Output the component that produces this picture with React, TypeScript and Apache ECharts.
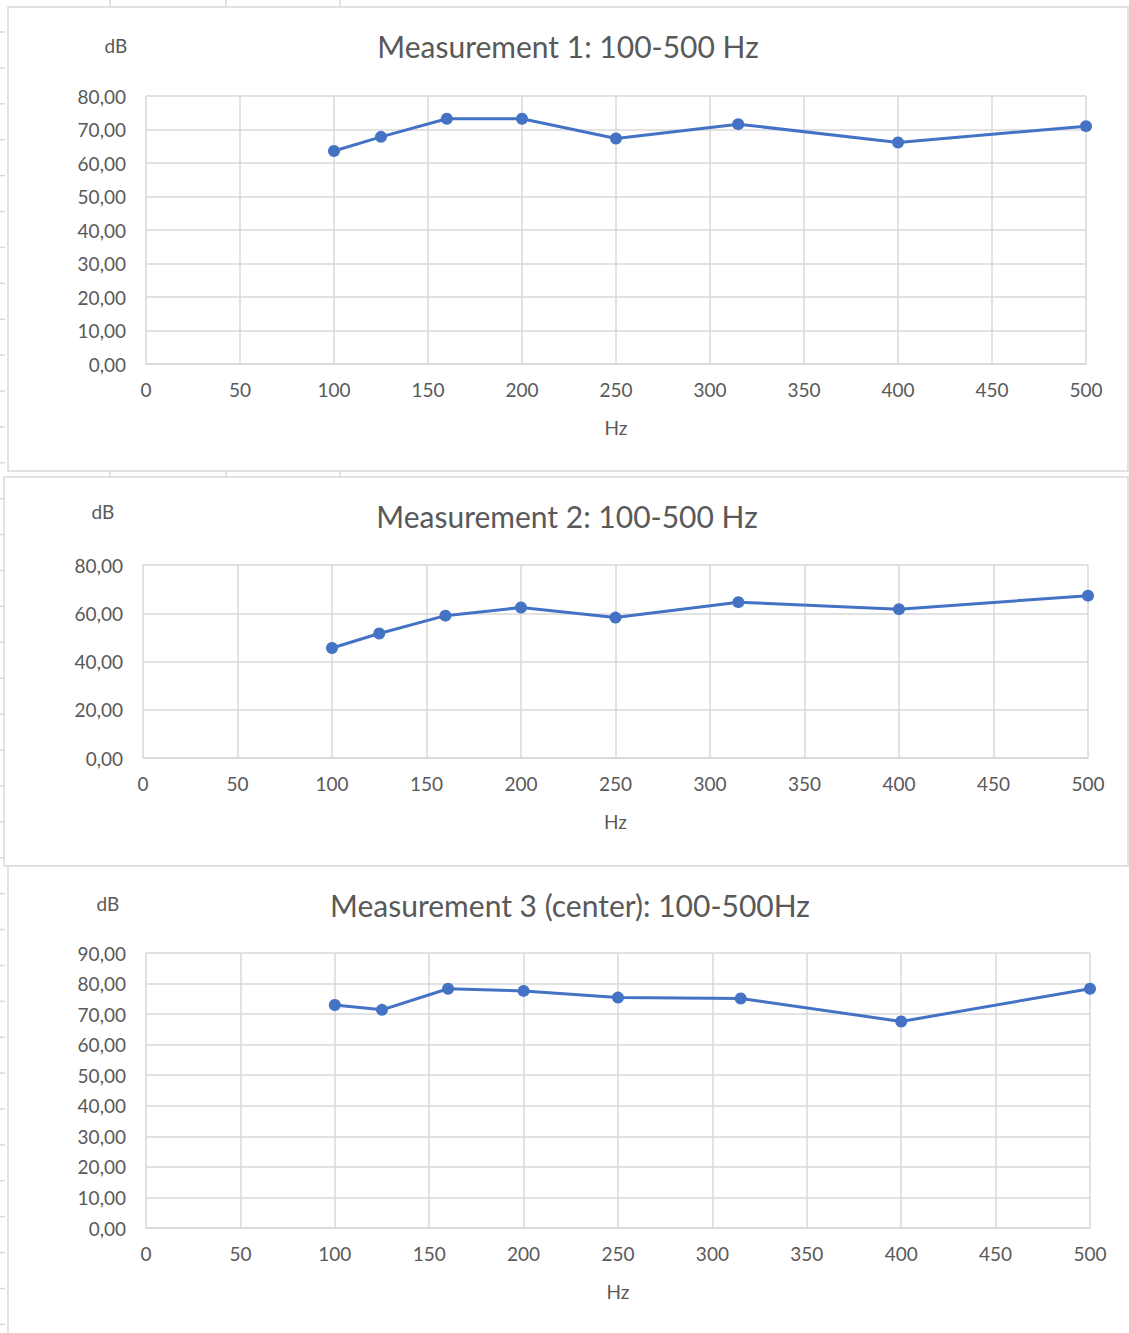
import React, { useEffect, useRef } from "react";
import * as echarts from "echarts";

// Frequencies (Hz) shared by the three measurements
const frequencies = [100, 125, 160, 200, 250, 315, 400, 500];

// Sound levels (dB) per measurement
const measurement1 = [63.6, 67.8, 73.2, 73.2, 67.3, 71.6, 66.1, 71.0];
const measurement2 = [45.6, 51.6, 59.0, 62.4, 58.2, 64.6, 61.7, 67.3];
const measurement3 = [73.0, 71.4, 78.3, 77.6, 75.4, 75.1, 67.6, 78.3];

const titles = [
  "Measurement 1: 100-500 Hz",
  "Measurement 2: 100-500 Hz",
  "Measurement 3 (center): 100-500Hz",
];

// Y axis ranges: [max, interval]
const yRanges = [
  [80, 10],
  [80, 20],
  [90, 10],
];

const FONT = "Lato, Carlito, Calibri, sans-serif";
const TEXT = "#595959";
const GRID = "#d9d9d9";
const LINE = "#4472C4";

export default function App() {
  const ref = useRef<HTMLDivElement>(null);

  useEffect(() => {
    if (!ref.current) return;
    document.body.style.margin = "0";
    const chart = echarts.init(ref.current, null, { renderer: "svg" });

    const series = [measurement1, measurement2, measurement3];
    const grids = [
      { left: 146, top: 96, width: 940, height: 268 },
      { left: 143, top: 565, width: 945, height: 193 },
      { left: 146, top: 953, width: 944, height: 275 },
    ];
    const titlePos = [
      [568, 46],
      [567, 516],
      [570, 905],
    ];
    const dbPos = [
      [116, 45],
      [103, 511],
      [108, 903],
    ];

    const xAxes = grids.map((_, i) => ({
      type: "value",
      gridIndex: i,
      min: 0,
      max: 500,
      interval: 50,
      name: "Hz",
      nameLocation: "middle",
      nameGap: 54,
      nameTextStyle: { color: TEXT, fontFamily: FONT, fontSize: 19 },
      axisLine: { show: true, lineStyle: { color: GRID, width: 1.5 } },
      axisTick: { show: false },
      axisLabel: { color: TEXT, fontFamily: FONT, fontSize: 19, margin: 16 },
      splitLine: { show: true, lineStyle: { color: GRID, width: 1.5 } },
    }));

    const yAxes = grids.map((_, i) => ({
      type: "value",
      gridIndex: i,
      min: 0,
      max: yRanges[i][0],
      interval: yRanges[i][1],
      axisLine: { show: false },
      axisTick: { show: false },
      axisLabel: {
        color: TEXT,
        fontFamily: FONT,
        fontSize: 19,
        margin: 20,
        padding: [0, 0, 4, 0],
        formatter: (v: number) => v.toFixed(2).replace(".", ","),
      },
      splitLine: { show: true, lineStyle: { color: GRID, width: 1.5 } },
    }));

    const lineSeries = series.map((vals, i) => ({
      type: "line",
      name: titles[i],
      xAxisIndex: i,
      yAxisIndex: i,
      data: frequencies.map((f, k) => [f, vals[k]]),
      symbol: "circle",
      symbolSize: 12,
      itemStyle: { color: LINE },
      lineStyle: { color: LINE, width: 3 },
    }));

    // Chart frames and sheet row/column marks behind them
    const frames = [
      { x: 8, y: 7, w: 1120, h: 464 },
      { x: 4, y: 477, w: 1124, h: 389 },
      { x: 8, y: 866, w: 1140, h: 480 },
    ];
    const graphics: any[] = [];
    for (let y = 32; y < 1333; y += 35.9) {
      graphics.push({
        type: "line",
        shape: { x1: 0, y1: y, x2: 5, y2: y },
        style: { stroke: GRID, lineWidth: 1.5 },
      });
    }
    [110, 226, 340].forEach((x) => {
      graphics.push({
        type: "line",
        shape: { x1: x, y1: 0, x2: x, y2: 7 },
        style: { stroke: GRID, lineWidth: 1.5 },
      });
      graphics.push({
        type: "line",
        shape: { x1: x, y1: 471, x2: x, y2: 477 },
        style: { stroke: GRID, lineWidth: 1.5 },
      });
    });
    frames.forEach((f) => {
      graphics.push({
        type: "rect",
        shape: { x: f.x, y: f.y, width: f.w, height: f.h },
        style: { fill: "#ffffff", stroke: GRID, lineWidth: 1.5 },
        z: -10,
      });
    });
    titles.forEach((t, i) => {
      graphics.push({
        type: "text",
        x: titlePos[i][0],
        y: titlePos[i][1],
        style: {
          text: t,
          fill: TEXT,
          font: `30px ${FONT}`,
          textAlign: "center",
          textVerticalAlign: "middle",
        },
      });
      graphics.push({
        type: "text",
        x: dbPos[i][0],
        y: dbPos[i][1],
        style: {
          text: "dB",
          fill: TEXT,
          font: `19px ${FONT}`,
          textAlign: "center",
          textVerticalAlign: "middle",
        },
      });
    });

    chart.setOption({
      animation: false,
      backgroundColor: "#ffffff",
      grid: grids.map((g) => ({ ...g, containLabel: false })),
      xAxis: xAxes,
      yAxis: yAxes,
      series: lineSeries,
      graphic: graphics,
    });

    return () => chart.dispose();
  }, []);

  return (
    <div
      ref={ref}
      style={{ position: "absolute", left: 0, top: 0, width: 1129, height: 1333 }}
    />
  );
}
